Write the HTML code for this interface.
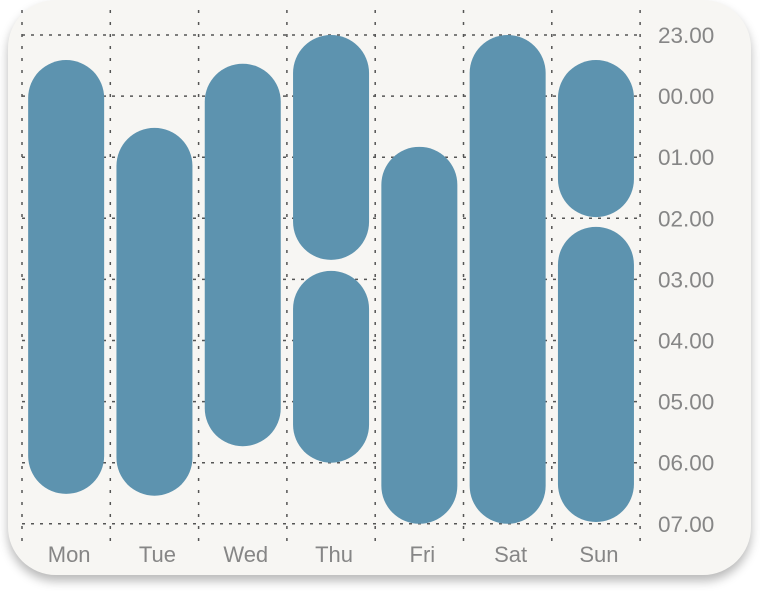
<!DOCTYPE html>
<html><head><meta charset="utf-8"><style>
html,body{margin:0;padding:0;background:#fff;width:760px;height:591px;overflow:hidden}
#card{position:absolute;left:8px;top:0;width:743px;height:575px;background:#f7f6f3;border-radius:48px;box-shadow:0 6px 10px rgba(0,0,0,0.28)}
svg{position:absolute;left:0;top:0}
text{font-family:"Liberation Sans",sans-serif;fill:#868686}
</style></head><body>
<div id="card"></div>
<svg id="chart" width="760" height="591"></svg>
<script>
const days=["Mon","Tue","Wed","Thu","Fri","Sat","Sun"];
const yTicks=["23.00","00.00","01.00","02.00","03.00","04.00","05.00","06.00","07.00"];
// hours after 23:00
const segStart=[0.41,1.52,0.47,0,3.86,1.83,0,0.41,3.14];
const segEnd=[7.51,7.54,6.73,3.68,7.0,8.0,8.0,2.98,7.97];
const segDay=[0,1,2,3,3,4,5,6,6];
const svg=document.getElementById('chart');
const NS='http://www.w3.org/2000/svg';
const y0=35,yStep=61.1,x0=22,colW=88.3;
function yS(v){return y0+v*yStep;}
function xS(i){return x0+i*colW;}
function mk(t,a){const e=document.createElementNS(NS,t);for(const k in a)e.setAttribute(k,a[k]);svg.appendChild(e);return e;}
yTicks.forEach((t,i)=>{
 const l=mk('line',{x1:x0,x2:640,y1:yS(i),y2:yS(i),stroke:'#555','stroke-width':1.5,'stroke-dasharray':'3 6'});
 
 
 const tx=mk('text',{x:658,y:yS(i)+8,'font-size':22.5});
 tx.textContent=t;
 
 
});
for(let i=0;i<=days.length;i++){
 const l=mk('line',{x1:xS(i),x2:xS(i),y1:10,y2:542,stroke:'#555','stroke-width':1.5,'stroke-dasharray':'3 9'});
 
 
}
days.forEach((d,i)=>{
 const tx=mk('text',{x:xS(i)+colW/2+3,y:562,'font-size':22,'text-anchor':'middle'});
 tx.textContent=d;
 
 
});
const bw=76;
segStart.forEach((s,k)=>{
 const i=segDay[k];
 const yt=yS(s),yb=yS(segEnd[k]);
 const r=mk('rect',{x:xS(i)+colW/2-bw/2,y:yt,width:bw,height:yb-yt,rx:bw/2,ry:bw/2,fill:'#5d93af'});
 
 
});
</script>
</body></html>
